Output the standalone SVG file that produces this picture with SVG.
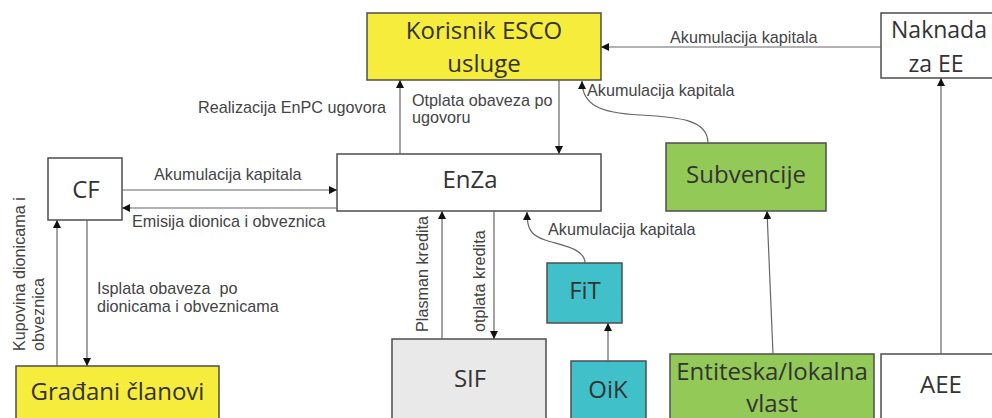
<svg xmlns="http://www.w3.org/2000/svg" width="992" height="418" viewBox="0 0 992 418">
<defs>
<marker id="ah" viewBox="0 0 10 10" refX="10" refY="5" markerWidth="8" markerHeight="8" markerUnits="userSpaceOnUse" orient="auto">
<path d="M0,0 L10,5 L0,10 z" fill="#111"/>
</marker>
<style>
.box{stroke:#4d4d4d;stroke-width:1.5}
.nt{font-family:"Open Sans","Noto Sans",sans-serif;font-size:24px;fill:#333;text-anchor:middle}
.sm{font-size:23px}
.lb{font-family:"Liberation Sans",Arial,sans-serif;font-size:16.2px;fill:#444}
.cn{fill:none;stroke:#666;stroke-width:1.2;marker-end:url(#ah)}
</style>
</defs>
<rect width="992" height="418" fill="#fff"/>

<g id="korisnik">
<rect class="box" x="367" y="13" width="234" height="67" fill="#f5ec3c"/>
<text class="nt" x="484" y="39">Korisnik ESCO</text>
<text class="nt" x="484" y="72">usluge</text>
</g>
<g id="enza">
<rect class="box" x="337" y="154" width="264" height="57" fill="#fff"/>
<text class="nt" x="470" y="188">EnZa</text>
</g>
<g id="naknada">
<rect class="box" x="881" y="13" width="116" height="65" fill="#fff"/>
<text class="nt sm" x="939" y="38">Naknada</text>
<text class="nt sm" x="936" y="72">za EE</text>
</g>
<g id="subvencije">
<rect class="box" x="666" y="143" width="160" height="68" fill="#93c957"/>
<text class="nt" x="746" y="183">Subvencije</text>
</g>
<g id="cf">
<rect class="box" x="48" y="158" width="74" height="62" fill="#fff"/>
<text class="nt" x="86" y="198">CF</text>
</g>
<g id="gradjani">
<rect class="box" x="16" y="366" width="203" height="60" fill="#f5ec3c"/>
<text class="nt" x="117.5" y="400">Građani članovi</text>
</g>
<g id="sif">
<rect class="box" x="392" y="339" width="154" height="90" fill="#e9e9ea"/>
<text class="nt" x="470" y="387">SIF</text>
</g>
<g id="fit">
<rect class="box" x="547" y="263" width="75" height="60" fill="#40c1c9"/>
<text class="nt" x="585" y="299">FiT</text>
</g>
<g id="oik">
<rect class="box" x="571" y="361" width="75" height="70" fill="#40c1c9"/>
<text class="nt" x="608" y="398">OiK</text>
</g>
<g id="entiteska">
<rect class="box" x="670" y="354" width="204" height="75" fill="#93c957"/>
<text class="nt" x="772" y="380">Entiteska/lokalna</text>
<text class="nt" x="772" y="412">vlast</text>
</g>
<g id="aee">
<rect class="box" x="881" y="354" width="116" height="75" fill="#fff"/>
<text class="nt" x="941" y="393">AEE</text>
</g>

<g id="connectors">
<path class="cn" d="M881,47 L601,47"/>
<path class="cn" d="M400,154 L400,80"/>
<path class="cn" d="M559,80 L559,154"/>
<path class="cn" d="M708,143 C708,120 680,117 640,115 C600,113 582,105 582,81"/>
<path class="cn" d="M941,354 L941,78"/>
<path class="cn" d="M773,354 L767,211"/>
<path class="cn" d="M122,190 L337,190"/>
<path class="cn" d="M337,208 L122,208"/>
<path class="cn" d="M57,366 L57,220"/>
<path class="cn" d="M87,220 L87,366"/>
<path class="cn" d="M442,339 L442,211"/>
<path class="cn" d="M494,211 L494,339"/>
<path class="cn" d="M585,263 C585,248 560,245 545,240 C530,235 527,228 527,212"/>
<path class="cn" d="M608,361 L608,323"/>
</g>

<g id="labels">
<text class="lb" x="670" y="43">Akumulacija kapitala</text>
<text class="lb" x="198" y="113">Realizacija EnPC ugovora</text>
<text class="lb" x="412" y="106">Otplata obaveza po</text>
<text class="lb" x="412" y="123">ugovoru</text>
<text class="lb" x="587" y="96">Akumulacija kapitala</text>
<text class="lb" x="154" y="180">Akumulacija kapitala</text>
<text class="lb" x="132" y="227">Emisija dionica i obveznica</text>
<text class="lb" x="97" y="294" xml:space="preserve">Isplata obaveza  po</text>
<text class="lb" x="97" y="312">dionicama i obveznicama</text>
<text class="lb" transform="translate(25,351) rotate(-90)">Kupovina dionicama i</text>
<text class="lb" transform="translate(44,351) rotate(-90)">obveznica</text>
<text class="lb" transform="translate(428,332) rotate(-90)">Plasman kredita</text>
<text class="lb" transform="translate(485,332) rotate(-90)">otplata kredita</text>
<text class="lb" x="548" y="235">Akumulacija kapitala</text>
</g>
</svg>
